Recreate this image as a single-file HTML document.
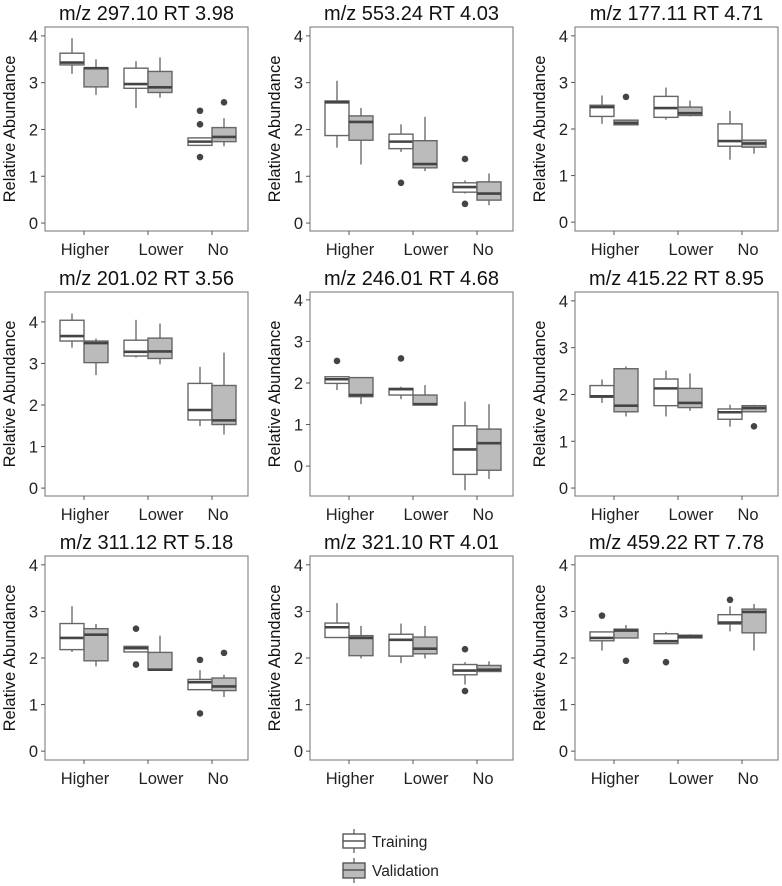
<!DOCTYPE html>
<html><head><meta charset="utf-8">
<style>
html,body{margin:0;padding:0;background:#fff;}
svg{display:block;font-family:"Liberation Sans",Arial,sans-serif;}
</style></head>
<body>
<svg id="chart" width="782" height="886" viewBox="0 0 782 886" xmlns="http://www.w3.org/2000/svg">
<g id="legend">
  <g>
    <line x1="354" y1="829" x2="354" y2="853" stroke="#555" stroke-width="1.2"/>
    <rect x="343" y="834" width="22" height="14" fill="#fff" stroke="#555" stroke-width="1.4"/>
    <line x1="343" y1="841" x2="365" y2="841" stroke="#555" stroke-width="1.4"/>
    <text x="372" y="847" font-size="15.5" fill="#222">Training</text>
  </g>
  <g>
    <line x1="354" y1="858" x2="354" y2="883" stroke="#555" stroke-width="1.2"/>
    <rect x="343" y="863" width="22" height="15" fill="#bbb" stroke="#555" stroke-width="1.4"/>
    <line x1="343" y1="870" x2="365" y2="870" stroke="#555" stroke-width="1.4"/>
    <text x="372" y="876" font-size="15.5" fill="#222">Validation</text>
  </g>
</g>
</svg>
<script>
const titles = ["m/z 297.10 RT 3.98","m/z 553.24 RT 4.03","m/z 177.11 RT 4.71","m/z 201.02 RT 3.56","m/z 246.01 RT 4.68","m/z 415.22 RT 8.95","m/z 311.12 RT 5.18","m/z 321.10 RT 4.01","m/z 459.22 RT 7.78"];
const categories = ["Higher","Lower","No"];
const yTicks = [0,1,2,3,4];
const yMin = [-0.17,-0.17,-0.19,-0.19,-0.72,-0.17,-0.19,-0.19,-0.19];
const yMax = [4.19,4.19,4.19,4.72,4.19,4.19,4.19,4.19,4.19];
// [lower whisker, q1, median, q3, upper whisker] per category
const trainStats = [
 [[3.19,3.38,3.43,3.63,3.95],[2.46,2.88,2.97,3.31,3.46],[1.66,1.66,1.74,1.82,1.82]],
 [[1.61,1.87,2.58,2.61,3.04],[1.52,1.59,1.74,1.90,2.11],[0.63,0.66,0.77,0.86,0.91]],
 [[2.11,2.27,2.47,2.51,2.72],[2.20,2.25,2.45,2.70,2.89],[1.34,1.63,1.74,2.11,2.39]],
 [[3.38,3.54,3.66,4.04,4.20],[3.14,3.18,3.28,3.56,4.05],[1.49,1.64,1.88,2.52,2.92]],
 [[1.83,1.99,2.09,2.15,2.15],[1.61,1.71,1.85,1.87,1.91],[-0.58,-0.20,0.40,0.97,1.55]],
 [[1.82,1.94,1.96,2.19,2.32],[1.53,1.76,2.13,2.33,2.51],[1.31,1.47,1.62,1.69,1.78]],
 [[2.13,2.18,2.43,2.74,3.11],[2.13,2.13,2.21,2.25,2.25],[1.32,1.32,1.48,1.54,1.74]],
 [[2.44,2.44,2.66,2.75,3.18],[1.89,2.04,2.39,2.51,2.74],[1.43,1.64,1.73,1.86,1.91]],
 [[2.16,2.37,2.43,2.56,2.56],[2.31,2.31,2.36,2.52,2.56],[2.57,2.73,2.76,2.93,3.11]]
];
const valStats = [
 [[2.74,2.91,3.31,3.32,3.50],[2.68,2.79,2.90,3.24,3.54],[1.64,1.74,1.84,2.04,2.24]],
 [[1.25,1.77,2.16,2.29,2.46],[1.11,1.18,1.26,1.76,2.27],[0.38,0.49,0.63,0.88,1.06]],
 [[2.09,2.09,2.13,2.19,2.19],[2.27,2.29,2.34,2.47,2.61],[1.47,1.61,1.69,1.76,1.77]],
 [[2.72,3.02,3.49,3.54,3.60],[2.98,3.12,3.29,3.61,3.96],[1.29,1.53,1.63,2.47,3.26]],
 [[1.49,1.67,1.71,2.13,2.13],[1.47,1.47,1.49,1.71,1.95],[-0.31,-0.10,0.55,0.89,1.49]],
 [[1.53,1.63,1.76,2.55,2.60],[1.65,1.72,1.82,2.13,2.45],[1.63,1.63,1.71,1.76,1.78]],
 [[1.82,1.94,2.50,2.63,2.73],[1.74,1.74,1.75,2.12,2.48],[1.16,1.30,1.39,1.57,1.64]],
 [[1.99,2.05,2.43,2.48,2.69],[1.99,2.09,2.20,2.45,2.69],[1.71,1.71,1.75,1.84,1.93]],
 [[2.43,2.43,2.59,2.62,2.71],[2.43,2.43,2.46,2.49,2.51],[2.16,2.54,2.99,3.05,3.16]]
];
const trainOut = [
 [[],[],[2.40,2.11,1.41]],
 [[],[0.86],[1.37,0.41]],
 [[],[],[]],
 [[],[],[]],
 [[2.53],[2.59],[]],
 [[],[],[]],
 [[],[2.63,1.86],[1.96,0.81]],
 [[],[],[2.19,1.29]],
 [[2.91],[1.91],[3.25]]
];
const valOut = [
 [[],[],[2.58]],
 [[],[],[]],
 [[2.69],[],[]],
 [[],[],[]],
 [[],[],[]],
 [[],[],[1.32]],
 [[],[],[2.11]],
 [[],[],[]],
 [[1.94],[],[]]
];

const NS = "http://www.w3.org/2000/svg";
const svg = document.getElementById('chart');
const colLeft = [45,310,575], rowTop = [27,292,556];
const PW = 203, PH = 204, BW = 24;
const catOffset = [39,103,167];
const labelShift = [1,13,6];
function mk(tag, attrs, parent){ const e=document.createElementNS(NS,tag); for(const k in attrs) e.setAttribute(k,attrs[k]); (parent||svg).appendChild(e); return e; }

titles.forEach((t,p)=>{
  const L = colLeft[p%3], T = rowTop[Math.floor(p/3)];
  const yS = v => T + PH - (v - yMin[p])/(yMax[p]-yMin[p])*PH;
  const xS = c => L + catOffset[c];
  const g = mk('g',{});
  
  
  const tt = mk('text',{x:L+PW/2,y:T-7,'font-size':20,'text-anchor':'middle',fill:'#111'},g);
  tt.textContent = t;
  
  
  const fr = mk('rect',{x:L,y:T,width:PW,height:PH,fill:'#fff',stroke:'#888','stroke-width':1.2},g);
  
  
  const yl = mk('text',{transform:`translate(${L-30},${T+PH/2}) rotate(-90)`,'font-size':16.5,'text-anchor':'middle',fill:'#111'},g);
  yl.textContent = 'Relative Abundance';
  
  
  yTicks.forEach(v=>{
    const y = yS(v);
    mk('line',{x1:L-4,x2:L,y1:y,y2:y,stroke:'#555','stroke-width':1},g);
    const tx = mk('text',{x:L-7,y:y+6,'font-size':16.5,'text-anchor':'end',fill:'#222'},g);
    tx.textContent = v;
    
    
  });
  categories.forEach((c,ci)=>{
    const x = xS(ci);
    mk('line',{x1:x,x2:x,y1:T+PH,y2:T+PH+4,stroke:'#555','stroke-width':1},g);
    const tx = mk('text',{x:x+labelShift[ci],y:T+PH+24,'font-size':16.5,'text-anchor':'middle',fill:'#222'},g);
    tx.textContent = c;
    
    
    [[trainStats,trainOut,'#fff',-1,'training'],[valStats,valOut,'#bbb',1,'validation']].forEach(([S,O,fill,side,nm])=>{
      const s = S[p][ci];
      const cx = x + side*BW/2;
      const bg = mk('g',{},g);
      
      
      mk('line',{x1:cx,x2:cx,y1:yS(s[0]),y2:yS(s[1]),stroke:'#555','stroke-width':1.2},bg);
      mk('line',{x1:cx,x2:cx,y1:yS(s[3]),y2:yS(s[4]),stroke:'#555','stroke-width':1.2},bg);
      mk('rect',{x:cx-BW/2,y:yS(s[3]),width:BW,height:Math.max(1,yS(s[1])-yS(s[3])),fill:fill,stroke:'#666','stroke-width':1.4},bg);
      mk('line',{x1:cx-BW/2,x2:cx+BW/2,y1:yS(s[2]),y2:yS(s[2]),stroke:'#444','stroke-width':2.6},bg);
      O[p][ci].forEach(v=>{
        const pt = mk('circle',{cx:cx,cy:yS(v),r:3.3,fill:'#444'},bg);
        
        
      });
    });
  });
});
</script>
</body></html>
